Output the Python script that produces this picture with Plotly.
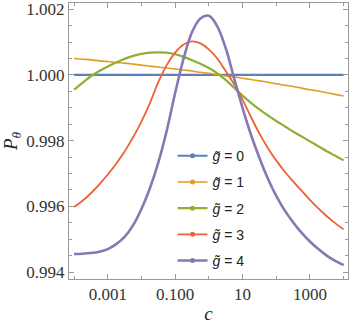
import plotly.graph_objects as go

# c values, quarter-decade samples from 1e-4 to 1e4
c = [0.0001, 0.000178, 0.000316, 0.000562, 0.001, 0.00178, 0.00316, 0.00562,
     0.01, 0.0178, 0.0316, 0.0562, 0.1, 0.178, 0.316, 0.562,
     1.0, 1.78, 3.16, 5.62, 10.0, 17.8, 31.6, 56.2,
     100.0, 178.0, 316.0, 562.0, 1000.0, 1780.0, 3160.0, 5620.0, 10000.0]

p_g0 = [1.0] * len(c)
p_g1 = [1.00050, 1.00048, 1.00046, 1.00043, 1.00041, 1.00038, 1.00036, 1.00033,
        1.00030, 1.00027, 1.00024, 1.00021, 1.00018, 1.00015, 1.00012, 1.00008,
        1.00005, 1.00001, 0.99997, 0.99994, 0.99990, 0.99986, 0.99982, 0.99978,
        0.99973, 0.99969, 0.99965, 0.99960, 0.99955, 0.99951, 0.99946, 0.99941,
        0.99936]
p_g2 = [0.99955, 0.99976, 0.99996, 1.00012, 1.00026, 1.00038, 1.00049, 1.00058,
        1.00064, 1.00068, 1.00069, 1.00068, 1.00063, 1.00055, 1.00045, 1.00034,
        1.00021, 1.00005, 0.99985, 0.99961, 0.99937, 0.99915, 0.99895, 0.99877,
        0.99860, 0.99844, 0.99828, 0.99813, 0.99798, 0.99783, 0.99768, 0.99754,
        0.99740]
p_g3 = [0.99598, 0.99617, 0.99640, 0.99667, 0.99697, 0.99730, 0.99767, 0.99810,
        0.99858, 0.99914, 0.99978, 1.00030, 1.00068, 1.00093, 1.00102, 1.00096,
        1.00078, 1.00050, 1.00012, 0.99972, 0.99925, 0.99872, 0.99822, 0.99778,
        0.99740, 0.99706, 0.99676, 0.99648, 0.99620, 0.99594, 0.99570, 0.99549,
        0.99530]
p_g4 = [0.99455, 0.99456, 0.99458, 0.99462, 0.99470, 0.99485, 0.99507, 0.99542,
        0.99592, 0.99655, 0.99733, 0.99830, 0.99945, 1.00050, 1.00130, 1.00172,
        1.00180, 1.00148, 1.00082, 0.99990, 0.99900, 0.99818, 0.99748, 0.99685,
        0.99632, 0.99588, 0.99552, 0.99520, 0.99493, 0.99470, 0.99450, 0.99434,
        0.99421]

series = [p_g0, p_g1, p_g2, p_g3, p_g4]
names = ['<i>g\u0303</i> = 0', '<i>g\u0303</i> = 1', '<i>g\u0303</i> = 2',
         '<i>g\u0303</i> = 3', '<i>g\u0303</i> = 4']
colors = ['#5E81B5', '#E19C24', '#8FB032', '#EB6235', '#8778B3']
widths = [2.2, 1.6, 2.2, 1.8, 2.6]

x_tickvals = [0.001, 0.1, 10, 1000]
x_ticktext = ['0.001', '0.100', '10', '1000']
x_minorvals = [0.0001, 0.01, 1, 100, 10000]
y_tickvals = [0.994, 0.996, 0.998, 1.000, 1.002]
y_ticktext = ['0.994', '0.996', '0.998', '1.000', '1.002']

fig = go.Figure()
for i, ys in enumerate(series):
    fig.add_trace(go.Scatter(
        x=c, y=ys, mode='lines',
        line=dict(color=colors[i], width=widths[i], shape='spline',
                  smoothing=1.0),
        showlegend=False, hoverinfo='skip'))
# legend entries (line with point marker, as in the reference)
for i in range(len(series)):
    fig.add_trace(go.Scatter(
        x=[None], y=[None], mode='lines+markers', name=names[i],
        legendgroup=str(i),
        line=dict(color=colors[i], width=widths[i]),
        marker=dict(color=colors[i], size=5)))

axis_common = dict(
    showline=True, linecolor='#9a9a9a', linewidth=1, mirror='ticks',
    ticks='inside', tickcolor='#9a9a9a', ticklen=5, tickwidth=1,
    showgrid=False, zeroline=False, automargin=False,
    tickfont=dict(family='Liberation Serif', size=17, color='#333333'),
)

fig.update_xaxes(
    type='log', range=[-4.15, 4.13],
    tickmode='array', tickvals=x_tickvals, ticktext=x_ticktext,
    minor=dict(tickmode='array', tickvals=x_minorvals, ticks='inside',
               ticklen=3, tickcolor='#9a9a9a', showgrid=False),
    title=dict(text='<i>c</i>',
               font=dict(family='Liberation Serif', size=19, color='#222222')),
    **axis_common)
fig.update_yaxes(
    range=[0.99379, 1.00219],
    tickmode='array', tickvals=y_tickvals, ticktext=y_ticktext,
    minor=dict(dtick=0.0005, ticks='inside', ticklen=3, tickcolor='#9a9a9a',
               showgrid=False),
    title=dict(text='<i>P<sub>θ</sub></i>',
               font=dict(family='Liberation Serif', size=19, color='#222222')),
    **axis_common)

fig.update_layout(
    width=349, height=324,
    margin=dict(l=69, r=1, t=3, b=45),
    plot_bgcolor='white', paper_bgcolor='white',
    legend=dict(x=0.371, y=0.503, xanchor='left', yanchor='top',
                bgcolor='rgba(0,0,0,0)', traceorder='grouped',
                tracegroupgap=5, itemwidth=30,
                font=dict(family='Liberation Sans', size=14, color='#222222')),
)

# drop the page's default 8px body margin so the figure sits at the corner
fig.write_html('out.html', config={'displayModeBar': False},
               post_script="document.body.style.margin='0px';")
